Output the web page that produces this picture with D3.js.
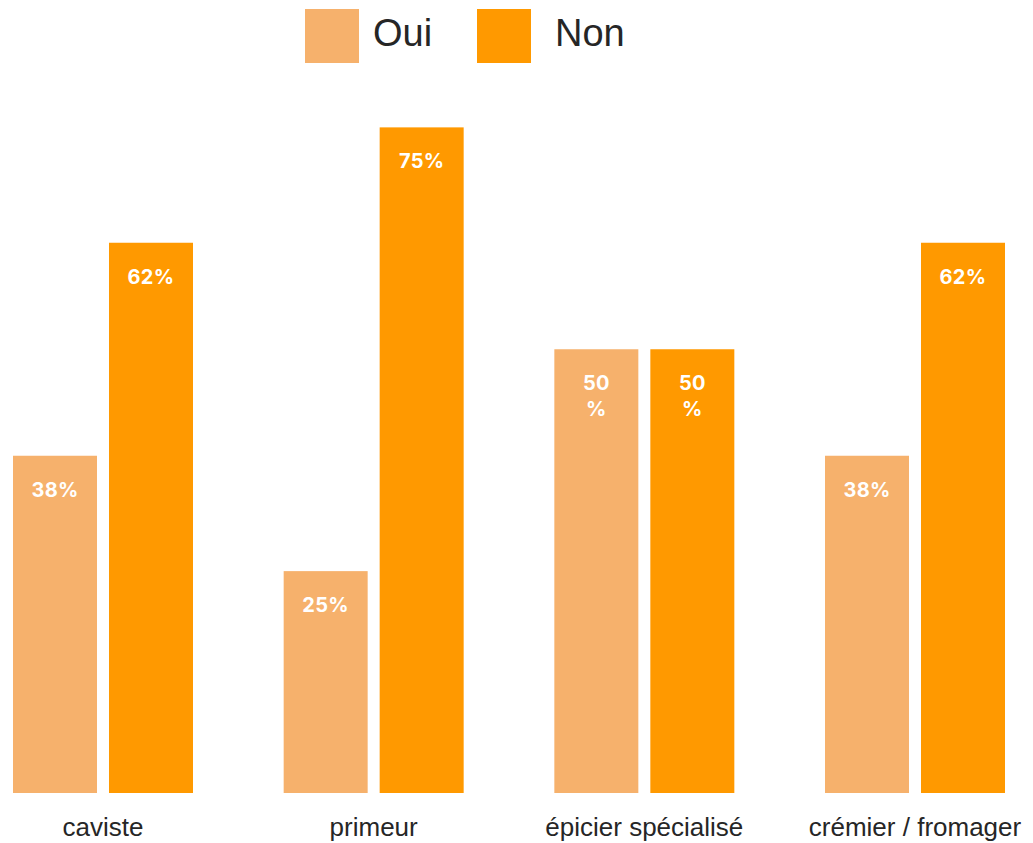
<!DOCTYPE html>
<html>
<head>
<meta charset="utf-8">
<script src="https://cdn.jsdelivr.net/npm/d3@7"></script>
<style>
  html, body { margin: 0; padding: 0; background: #fff; }
  svg { display: block; }
</style>
</head>
<body>
<svg id="chart" width="1033" height="843"></svg>
<script>
// Commerce types and answer shares (%)
const categories = ["caviste", "primeur", "épicier spécialisé", "crémier / fromager"];
const series = ["Oui", "Non"];
const ouiValues = [38, 25, 50, 38];
const nonValues = [62, 75, 50, 62];
const colors = ["#F6B16C", "#FF9900"];
// Categories whose value labels break onto two lines ("50" / "%")
const wrappedLabelCategories = ["épicier spécialisé"];

const rows = categories.map((c, i) => ({ category: c, values: [ouiValues[i], nonValues[i]] }));

const svg = d3.select("#chart");

const x0 = d3.scaleBand()
  .domain(categories)
  .range([13, 1005])
  .paddingInner(0.335)
  .paddingOuter(0);

const x1 = d3.scaleBand()
  .domain(series)
  .range([0, x0.bandwidth()])
  .paddingInner(0.125);

const y = d3.scaleLinear().domain([0, 80]).range([793, 83]);

const color = d3.scaleOrdinal().domain(series).range(colors);

// Bars
const groups = svg.append("g").selectAll("g")
  .data(rows)
  .join("g")
  .attr("transform", d => `translate(${x0(d.category)},0)`);

const cells = groups.selectAll("g")
  .data(d => series.map((s, k) => ({ series: s, value: d.values[k], category: d.category })))
  .join("g");

cells.append("rect")
  .attr("x", d => x1(d.series))
  .attr("y", d => y(d.value))
  .attr("width", x1.bandwidth())
  .attr("height", d => y(0) - y(d.value))
  .attr("fill", d => color(d.series));

// Value labels inside bars
cells.append("text")
  .attr("x", d => x1(d.series) + x1.bandwidth() / 2)
  .attr("y", d => y(d.value) + 41)
  .attr("text-anchor", "middle")
  .attr("fill", "#ffffff")
  .style("font-family", "Inter, 'Open Sans', sans-serif")
  .style("font-weight", 700)
  .style("font-size", "20px")
  .style("letter-spacing", "0.3px")
  .each(function (d) {
    const t = d3.select(this);
    if (wrappedLabelCategories.includes(d.category)) {
      t.append("tspan").attr("x", x1(d.series) + x1.bandwidth() / 2).text(d.value);
      t.append("tspan").attr("x", x1(d.series) + x1.bandwidth() / 2).attr("dy", 26).text("%");
    } else {
      t.text(d.value + "%");
    }
  });

// Category axis labels
const xAxis = d3.axisBottom(x0).tickSize(0).tickPadding(0);
const axisG = svg.append("g")
  .attr("transform", "translate(0,817)")
  .call(xAxis);
axisG.select(".domain").remove();
axisG.selectAll("text")
  .attr("dy", "0.72em")
  .attr("fill", "#262626")
  .style("font-family", "'Liberation Sans', Arial, sans-serif")
  .style("font-size", "26px");

// Legend
const legendX = [305, 477];
const legend = svg.append("g").selectAll("g")
  .data(series)
  .join("g")
  .attr("transform", (d, i) => `translate(${legendX[i]},9)`);

legend.append("rect")
  .attr("width", 54)
  .attr("height", 54)
  .attr("fill", d => color(d));

legend.append("text")
  .attr("x", (d, i) => (i === 0 ? 68 : 78))
  .attr("y", 37)
  .attr("fill", "#262626")
  .style("font-family", "'Liberation Sans', Arial, sans-serif")
  .style("font-size", "38px")
  .text(d => d);
</script>
</body>
</html>
